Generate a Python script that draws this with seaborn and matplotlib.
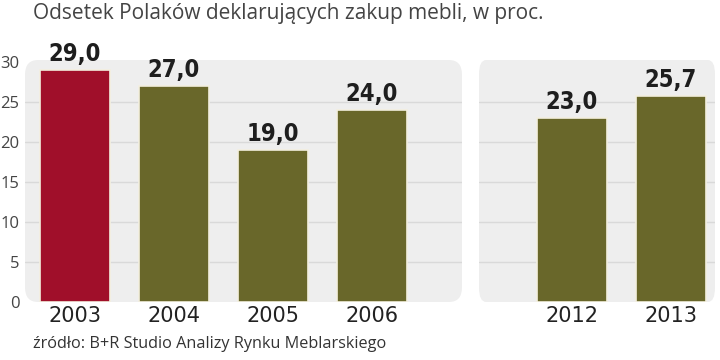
import numpy as np
import pandas as pd
import matplotlib
matplotlib.use("Agg")
import matplotlib.pyplot as plt
from matplotlib.patches import FancyBboxPatch
import seaborn as sns

years_a = ["2003", "2004", "2005", "2006"]
values_a = [29.0, 27.0, 19.0, 24.0]
years_b = ["2012", "2013"]
values_b = [23.0, 25.7]
yticks = [0, 5, 10, 15, 20, 25, 30]

title = "Odsetek Polaków deklarujących zakup mebli, w proc."
source = "źródło: B+R Studio Analizy Rynku Meblarskiego"

red = "#a00f2a"
olive = "#69672a"
panel_bg = "#eeeeee"
grid_c = "#d9d9d9"

sns.set_theme(style="white")
plt.rcParams["font.family"] = ["Open Sans", "DejaVu Sans"]

fig = plt.figure(figsize=(7.2, 3.6), dpi=100)
ax1 = fig.add_axes([25 / 720, 1 - 302 / 360, 437 / 720, 242 / 360])
ax2 = fig.add_axes([479 / 720, 1 - 302 / 360, 236 / 720, 242 / 360])


def draw(ax, years, values, colors, xlim):
    df = pd.DataFrame({"year": years, "value": values})
    ax.set_facecolor("none")
    bg = FancyBboxPatch((0, 0), 1, 1, boxstyle="round,pad=0,rounding_size=0.03",
                        transform=ax.transAxes, facecolor=panel_bg,
                        edgecolor="none", zorder=0, mutation_aspect=2)
    ax.add_patch(bg)
    for t in yticks[1:-1]:
        ax.axhline(t, color=grid_c, lw=1, zorder=1)
    sns.barplot(data=df, x="year", y="value", hue="year", palette=colors,
                saturation=1, width=0.71, legend=False, ax=ax, zorder=3,
                edgecolor="#f3efdf", linewidth=1.2)
    for cont in ax.containers:
        labels = [f"{v:.1f}".replace(".", ",") for v in cont.datavalues]
        ax.bar_label(cont, labels=labels, padding=3, fontsize=17,
                     fontweight="bold", color="#1e1e1e",
                     family="DejaVu Sans", fontstretch="condensed")
    ax.set_xlim(*xlim)
    ax.set_ylim(0, 30.25)
    ax.set_xlabel("")
    ax.set_ylabel("")
    for s in ax.spines.values():
        s.set_visible(False)
    ax.tick_params(axis="x", length=0, pad=3)
    ax.tick_params(axis="y", length=0)
    for lab in ax.get_xticklabels():
        lab.set_fontfamily("DejaVu Sans")
        lab.set_fontsize(15)
        lab.set_color("#222222")


draw(ax1, years_a, values_a, [red, olive, olive, olive], (-0.505, 3.91))
draw(ax2, years_b, values_b, [olive, olive], (-0.94, 1.45))

ax1.set_yticks(yticks)
ax1.set_yticklabels([str(t) for t in yticks])
ax1.tick_params(axis="y", labelsize=12, colors="#444444", pad=4)
ax2.set_yticks([])

fig.text(33 / 720, 1 - 14 / 360, title, fontsize=15, color="#444444",
         va="center", ha="left")
fig.text(33 / 720, 1 - 344 / 360, source, fontsize=11.7, color="#333333",
         va="center", ha="left")

fig.savefig("out.png", dpi=100)
